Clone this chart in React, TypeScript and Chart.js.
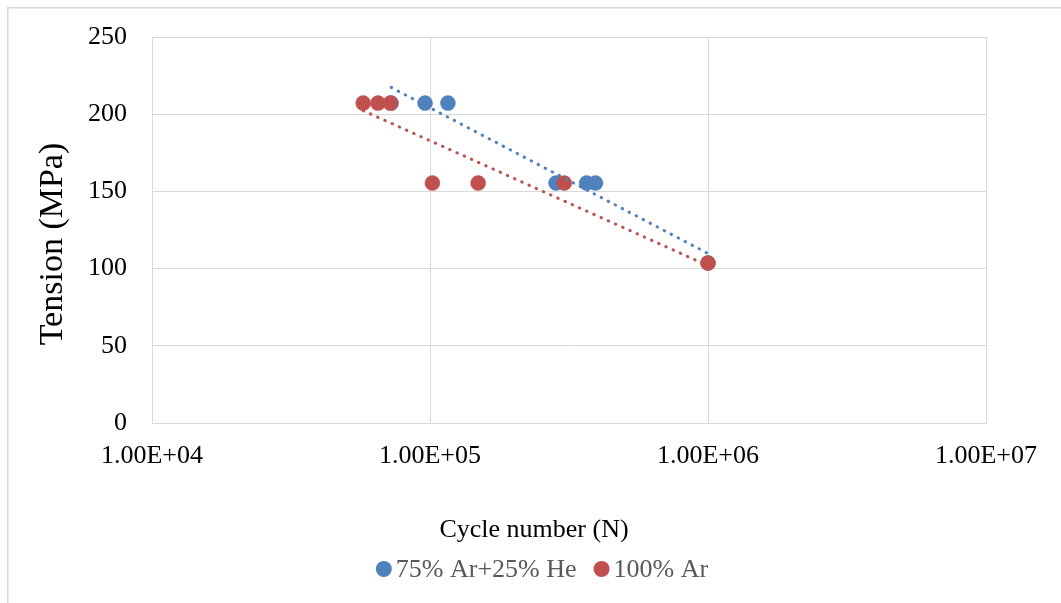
import React, { useEffect, useRef } from 'react';
import { Chart, registerables } from 'chart.js';

Chart.register(...registerables);

// ---- data ----
const seriesNames = ['75% Ar+25% He', '100% Ar'];
const heCycles = [72500, 96000, 116000, 284000, 366000, 394000, 1000000];
const heTension = [207.2, 207.2, 207.2, 155.4, 155.4, 155.4, 103.6];
const arCycles = [57500, 65000, 72000, 102000, 149000, 304000, 1000000];
const arTension = [207.2, 207.2, 207.2, 155.4, 155.4, 155.4, 103.6];
const xTickValues = [1e4, 1e5, 1e6, 1e7];
const xTickLabels = ['1.00E+04', '1.00E+05', '1.00E+06', '1.00E+07'];
const yTickValues = [0, 50, 100, 150, 200, 250];
const xTitle = 'Cycle number (N)';
const yTitle = 'Tension (MPa)';
const seriesColors = ['#4f81bd', '#c0504d'];

const FAMILY = "'Liberation Serif', 'Times New Roman', serif";

// Excel-style logarithmic trendline: least squares of y on log(x), over the data range
function logTrend(xs: number[], ys: number[]) {
  const lx = xs.map((v) => Math.log10(v));
  const n = xs.length;
  const mx = lx.reduce((a, b) => a + b, 0) / n;
  const my = ys.reduce((a, b) => a + b, 0) / n;
  let sxy = 0;
  let sxx = 0;
  for (let i = 0; i < n; i++) {
    sxy += (lx[i] - mx) * (ys[i] - my);
    sxx += (lx[i] - mx) * (lx[i] - mx);
  }
  const b = sxy / sxx;
  const a = my - b * mx;
  const x0 = Math.min(...xs);
  const x1 = Math.max(...xs);
  return [
    { x: x0, y: a + b * Math.log10(x0) },
    { x: x1, y: a + b * Math.log10(x1) },
  ];
}

const toPoints = (xs: number[], ys: number[]) => xs.map((x, i) => ({ x, y: ys[i] }));

const decorPlugin = {
  id: 'decor',
  afterDraw(chart: any) {
    const ctx = chart.ctx as CanvasRenderingContext2D;
    const W = chart.width;
    const H = chart.height;
    ctx.save();
    // outer chart border (top + left visible)
    ctx.strokeStyle = '#d9d9d9';
    ctx.lineWidth = 1.5;
    ctx.beginPath();
    ctx.moveTo(0.75, H);
    ctx.lineTo(0.75, 0.75);
    ctx.lineTo(W, 0.75);
    ctx.stroke();

    // y axis title
    ctx.fillStyle = '#000000';
    ctx.font = `34px ${FAMILY}`;
    ctx.textAlign = 'center';
    ctx.textBaseline = 'alphabetic';
    ctx.save();
    ctx.translate(55, 237);
    ctx.rotate(-Math.PI / 2);
    ctx.fillText(yTitle, 0, 0);
    ctx.restore();

    // x axis title
    ctx.font = `26px ${FAMILY}`;
    ctx.fillText(xTitle, W / 2, 530);

    // legend
    ctx.font = `26px ${FAMILY}`;
    const r = 8;
    const gapText = 4;
    const itemGap = 17;
    const widths = seriesNames.map((s) => ctx.measureText(s).width);
    let total = 0;
    widths.forEach((w) => (total += 2 * r + gapText + w));
    total += itemGap * (seriesNames.length - 1);
    let x = W / 2 + 8 - total / 2;
    const cy = 562;
    const base = 570;
    ctx.textAlign = 'left';
    seriesNames.forEach((name, i) => {
      ctx.fillStyle = seriesColors[i];
      ctx.beginPath();
      ctx.arc(x + r, cy, r, 0, Math.PI * 2);
      ctx.fill();
      ctx.fillStyle = '#595959';
      ctx.fillText(name, x + 2 * r + gapText, base);
      x += 2 * r + gapText + widths[i] + itemGap;
    });
    ctx.restore();
  },
};

export default function App() {
  const ref = useRef<HTMLCanvasElement>(null);

  useEffect(() => {
    const canvas = ref.current;
    if (!canvas) return;
    const trendStyle = (color: string) => ({
      showLine: true,
      pointRadius: 0,
      borderColor: color,
      borderWidth: 3,
      borderDash: [0.5, 7.4],
      borderCapStyle: 'round' as const,
      fill: false,
    });
    const chart = new Chart(canvas, {
      type: 'scatter',
      data: {
        datasets: [
          {
            label: seriesNames[0],
            data: toPoints(heCycles, heTension),
            backgroundColor: seriesColors[0],
            borderColor: seriesColors[0],
            pointRadius: 7.5,
            pointBorderWidth: 0.5,
            order: 4,
          },
          {
            label: seriesNames[1],
            data: toPoints(arCycles, arTension),
            backgroundColor: seriesColors[1],
            borderColor: seriesColors[1],
            pointRadius: 7.5,
            pointBorderWidth: 0.5,
            order: 3,
          },
          {
            label: 'trend ' + seriesNames[1],
            data: logTrend(arCycles, arTension),
            ...trendStyle(seriesColors[1]),
            order: 2,
          },
          {
            label: 'trend ' + seriesNames[0],
            data: logTrend(heCycles, heTension),
            ...trendStyle(seriesColors[0]),
            order: 1,
          },
        ],
      } as any,
      options: {
        animation: false,
        responsive: false,
        devicePixelRatio: 1,
        layout: { padding: { left: 0, top: 30, right: 75, bottom: 0 } },
        plugins: {
          legend: { display: false },
          tooltip: { enabled: false },
        },
        scales: {
          x: {
            type: 'logarithmic',
            min: 1e4,
            max: 1e7,
            afterBuildTicks: (s: any) => {
              s.ticks = xTickValues.map((v) => ({ value: v }));
            },
            afterFit: (s: any) => {
              s.height = 180;
            },
            grid: { color: '#d9d9d9', lineWidth: 1, drawTicks: false },
            border: { display: true, color: '#d9d9d9', width: 1 },
            ticks: {
              autoSkip: false,
              maxRotation: 0,
              minRotation: 0,
              padding: 18,
              color: '#000000',
              font: { family: FAMILY, size: 26 },
              callback: (v: any) => xTickLabels[xTickValues.indexOf(Number(v))] ?? '',
            },
          },
          y: {
            type: 'linear',
            min: 0,
            max: 250,
            afterBuildTicks: (s: any) => {
              s.ticks = yTickValues.map((v) => ({ value: v }));
            },
            afterFit: (s: any) => {
              s.width = 145;
              s.paddingTop = 0;
              s.paddingBottom = 0;
            },
            grid: { color: '#d9d9d9', lineWidth: 1, drawTicks: false },
            border: { display: true, color: '#d9d9d9', width: 1 },
            ticks: {
              padding: 25,
              color: '#000000',
              font: { family: FAMILY, size: 26 },
              callback: (v: any) => String(v),
            },
          },
        },
      } as any,
      plugins: [decorPlugin],
    });
    return () => chart.destroy();
  }, []);

  return (
    <div style={{ position: 'absolute', left: 7, top: 7, width: 1054, height: 596 }}>
      <canvas ref={ref} width={1054} height={596} style={{ display: 'block', width: 1054, height: 596 }} />
    </div>
  );
}
